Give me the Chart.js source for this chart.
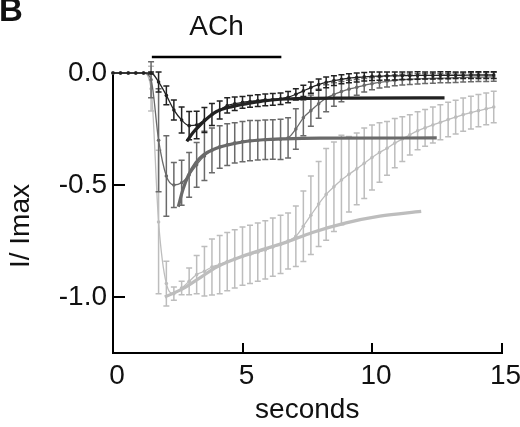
<!DOCTYPE html>
<html>
<head>
<meta charset="utf-8">
<script src="https://cdn.jsdelivr.net/npm/chart.js@4.4.1/dist/chart.umd.min.js"></script>
<style>
  body { margin: 0; background: #fff; }
  #wrap { width: 520px; height: 427px; }
</style>
</head>
<body>
<div id="wrap"><canvas id="chart" width="520" height="427"></canvas></div>
<script>
// sample times (s)
var seconds = [0, 0.29, 0.59, 0.88, 1.18, 1.47, 1.76, 2.06, 2.35, 2.65, 2.94, 3.23, 3.53, 3.82, 4.12, 4.41, 4.70,
  5.00, 5.29, 5.59, 5.88, 6.17, 6.47, 6.76, 7.06, 7.35, 7.64, 7.94, 8.23, 8.53, 8.82, 9.11, 9.41, 9.70, 10.00,
  10.29, 10.58, 10.88, 11.17, 11.46, 11.76, 12.05, 12.35, 12.64, 12.94, 13.23, 13.52, 13.82, 14.11, 14.41, 14.70];

// I / Imax, mean and error
var darkMean = [0, 0, 0, 0, 0, 0, -0.04, -0.10, -0.165, -0.21, -0.235, -0.232, -0.21, -0.185, -0.165, -0.145, -0.137,
  -0.131, -0.127, -0.123, -0.12, -0.118, -0.115, -0.108, -0.095, -0.08, -0.065, -0.052, -0.042, -0.034, -0.028, -0.023, -0.02, -0.017, -0.015,
  -0.014, -0.013, -0.013, -0.012, -0.012, -0.011, -0.011, -0.011, -0.010, -0.010, -0.010, -0.010, -0.009, -0.009, -0.009, -0.009];
var darkErr = [0, 0, 0, 0, 0, 0.005, 0.045, 0.042, 0.045, 0.058, 0.063, 0.061, 0.056, 0.049, 0.04, 0.034, 0.03,
  0.026, 0.026, 0.026, 0.026, 0.026, 0.026, 0.025, 0.025, 0.025, 0.025, 0.025, 0.024, 0.022, 0.02, 0.02, 0.02, 0.019, 0.019,
  0.018, 0.018, 0.018, 0.017, 0.017, 0.017, 0.016, 0.016, 0.016, 0.016, 0.015, 0.015, 0.015, 0.015, 0.015, 0.015];

var mediumMean = [0, 0, 0, 0, 0, -0.03, -0.30, -0.46, -0.50, -0.49, -0.455, -0.41, -0.37, -0.345, -0.33, -0.32, -0.312,
  -0.306, -0.302, -0.30, -0.298, -0.297, -0.296, -0.29, -0.25, -0.20, -0.168, -0.137, -0.113, -0.096, -0.083, -0.072, -0.064, -0.055, -0.048,
  -0.042, -0.037, -0.033, -0.03, -0.028, -0.026, -0.025, -0.024, -0.023, -0.022, -0.021, -0.02, -0.019, -0.018, -0.018, -0.017];
var mediumErr = [0, 0, 0, 0, 0, 0.08, 0.23, 0.18, 0.1, 0.1, 0.1, 0.1, 0.11, 0.1, 0.095, 0.093, 0.09,
  0.09, 0.09, 0.088, 0.088, 0.088, 0.09, 0.09, 0.09, 0.08, 0.07, 0.065, 0.06, 0.052, 0.045, 0.04, 0.035, 0.03, 0.027,
  0.025, 0.025, 0.024, 0.024, 0.023, 0.023, 0.022, 0.022, 0.021, 0.021, 0.021, 0.02, 0.02, 0.02, 0.02, 0.02];

var lightMean = [0, 0, 0, 0, 0, -0.07, -0.665, -0.94, -0.985, -0.96, -0.93, -0.90, -0.885, -0.866, -0.855, -0.842, -0.83,
  -0.818, -0.81, -0.80, -0.79, -0.777, -0.765, -0.75, -0.729, -0.684, -0.635, -0.585, -0.542, -0.508, -0.478, -0.452, -0.428, -0.403, -0.377,
  -0.355, -0.336, -0.313, -0.295, -0.276, -0.258, -0.245, -0.232, -0.22, -0.208, -0.197, -0.186, -0.177, -0.168, -0.16, -0.152];
var lightErr = [0, 0, 0, 0, 0, 0.1, 0.32, 0.1, 0.03, 0.03, 0.06, 0.085, 0.11, 0.125, 0.13, 0.13, 0.13,
  0.13, 0.13, 0.13, 0.13, 0.13, 0.13, 0.125, 0.135, 0.157, 0.175, 0.19, 0.205, 0.2, 0.2, 0.168, 0.16, 0.157, 0.145,
  0.133, 0.12, 0.11, 0.1, 0.09, 0.085, 0.082, 0.08, 0.078, 0.077, 0.075, 0.074, 0.073, 0.072, 0.071, 0.07];

// exponential fits
var darkFitT = [2.85, 3.1, 3.4, 3.7, 4.0, 4.6, 5.3, 5.9, 6.7, 7.5, 9.0, 12.8];
var darkFitV = [-0.305, -0.265, -0.228, -0.196, -0.172, -0.15, -0.134, -0.123, -0.116, -0.113, -0.112, -0.111];
var mediumFitT = [2.52, 2.7, 2.9, 3.2, 3.5, 3.9, 4.4, 5.0, 5.8, 6.6, 8.0, 12.5];
var mediumFitV = [-0.597, -0.52, -0.46, -0.40, -0.365, -0.34, -0.322, -0.308, -0.298, -0.294, -0.291, -0.29];
var lightFitT = [2.0, 2.7, 3.4, 4.0, 5.0, 5.9, 6.7, 7.7, 9.0, 10.3, 11.9];
var lightFitV = [-1.0, -0.963, -0.911, -0.866, -0.818, -0.784, -0.755, -0.712, -0.669, -0.639, -0.618];

var achOn = [1.5, 6.5];
var xTicks = [0, 5, 10, 15];
var yTicks = [0, -0.5, -1.0];

var DARK = '#222222', MEDIUM = '#6a6a6a', LIGHT = '#bdbdbd';
var FONT = "'Liberation Sans', Arial, sans-serif";

function pairs(xs, ys) {
  return xs.map(function(x, i) { return { x: x, y: ys[i] }; });
}

function dataSet(label, values, errs, color) {
  return {
    label: label, data: values, errors: errs,
    borderColor: color, backgroundColor: color,
    borderWidth: 1.3, pointRadius: 1.8, pointBorderWidth: 0,
    pointBackgroundColor: color, cubicInterpolationMode: 'monotone', clip: false
  };
}

function fitSet(label, xs, ys, color) {
  return {
    label: label, data: pairs(xs, ys),
    borderColor: color, borderWidth: 3.2, pointRadius: 0,
    cubicInterpolationMode: 'monotone', clip: false
  };
}

// error bars drawn right after their own line, so stacking follows dataset order
var errorBars = {
  id: 'errorBars',
  afterDatasetDraw: function(chart, args) {
    var ds = chart.data.datasets[args.index];
    if (!ds.errors) return;
    var y = chart.scales.y, ctx = chart.ctx;
    ctx.save();
    ctx.strokeStyle = ds.borderColor;
    ctx.lineWidth = 1.5;
    args.meta.data.forEach(function(pt, i) {
      var e = ds.errors[i];
      if (!e) return;
      var top = y.getPixelForValue(ds.data[i] + e);
      var bot = y.getPixelForValue(ds.data[i] - e);
      ctx.beginPath();
      ctx.moveTo(pt.x, top); ctx.lineTo(pt.x, bot);
      ctx.moveTo(pt.x - 3, top); ctx.lineTo(pt.x + 3, top);
      ctx.moveTo(pt.x - 3, bot); ctx.lineTo(pt.x + 3, bot);
      ctx.stroke();
    });
    ctx.restore();
  }
};

var labels = {
  id: 'labels',
  afterDraw: function(chart) {
    var ctx = chart.ctx, x = chart.scales.x;
    var x0 = x.getPixelForValue(achOn[0]), x1 = x.getPixelForValue(achOn[1]);
    ctx.save();
    ctx.strokeStyle = '#000';
    ctx.lineWidth = 2.5;
    ctx.beginPath();
    ctx.moveTo(x0, 57); ctx.lineTo(x1, 57);
    ctx.stroke();
    ctx.fillStyle = '#111';
    ctx.font = '28px ' + FONT;
    ctx.textAlign = 'center';
    ctx.fillText('ACh', (x0 + x1) / 2, 35);
    ctx.font = 'bold 33px ' + FONT;
    ctx.textAlign = 'left';
    ctx.fillText('B', -1, 21);
    ctx.font = '28px ' + FONT;
    ctx.translate(21.5, 226);
    ctx.rotate(-Math.PI / 2);
    ctx.textAlign = 'center';
    ctx.textBaseline = 'middle';
    ctx.fillText('I/ Imax', 0, 0);
    ctx.restore();
  }
};

new Chart(document.getElementById('chart'), {
  type: 'line',
  data: {
    labels: seconds,
    datasets: [
      dataSet('dark', darkMean, darkErr, DARK),
      fitSet('dark fit', darkFitT, darkFitV, DARK),
      fitSet('medium fit', mediumFitT, mediumFitV, MEDIUM),
      dataSet('medium', mediumMean, mediumErr, MEDIUM),
      fitSet('light fit', lightFitT, lightFitV, LIGHT),
      dataSet('light', lightMean, lightErr, LIGHT)
    ]
  },
  options: {
    responsive: false,
    animation: false,
    layout: { padding: { top: 73, right: 18.5, left: 0, bottom: 0 } },
    plugins: { legend: { display: false }, tooltip: { enabled: false } },
    scales: {
      x: {
        type: 'linear', min: 0, max: 15,
        afterBuildTicks: function(s) { s.ticks = xTicks.map(function(v) { return { value: v }; }); },
        afterFit: function(s) { s.height = 74; s.paddingLeft = 0; s.paddingRight = 0; },
        border: { color: '#000', width: 2 },
        grid: { drawOnChartArea: false, color: '#000', lineWidth: 2, tickLength: -10 },
        ticks: { color: '#111', font: { family: FONT, size: 28 }, padding: 16, maxRotation: 0, labelOffset: 4,
          callback: function(v) { return String(v); } },
        title: { display: true, text: 'seconds', color: '#111', font: { family: FONT, size: 28 },
          padding: { top: 0, bottom: 0 } }
      },
      y: {
        min: -1.25, max: 0,
        afterBuildTicks: function(s) { s.ticks = yTicks.map(function(v) { return { value: v }; }); },
        afterFit: function(s) { s.width = 113; },
        border: { color: '#000', width: 2 },
        grid: { drawOnChartArea: false, color: '#000', lineWidth: 2, tickLength: -12 },
        ticks: { color: '#111', font: { family: FONT, size: 28 }, padding: 18,
          callback: function(v) { return v.toFixed(1); } }
      }
    }
  },
  plugins: [errorBars, labels]
});
</script>
</body>
</html>
